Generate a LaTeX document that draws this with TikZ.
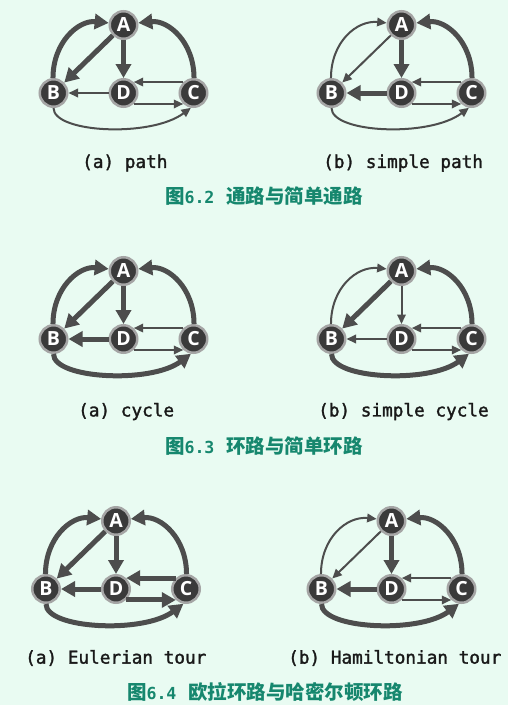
\documentclass[tikz,border=0pt]{standalone}
\usepackage{fontspec}
\usetikzlibrary{arrows.meta}
\newfontfamily\monof[FakeBold=1.6]{DejaVu Sans Mono}
\newfontfamily\monobf{DejaVu Sans Mono Bold}
\newfontfamily\letterf{Open Sans}
\newfontfamily\cjkf{Noto Sans CJK SC}
\definecolor{bgc}{RGB}{233,251,242}
\definecolor{edgec}{RGB}{77,77,77}
\definecolor{vfill}{RGB}{58,58,58}
\definecolor{vring}{RGB}{165,165,165}
\definecolor{capc}{RGB}{22,135,110}
\tikzset{
  vtx/.style={circle, fill=vfill, draw=vring, line width=2.5pt, minimum size=27.5pt, inner sep=0pt,
    text=white, font=\letterf\bfseries\fontsize{19.5}{19.5}\selectfont},
  thk/.style={draw=edgec, line width=5pt, -{Triangle[length=14pt,width=15pt]}},
  thn/.style={draw=edgec, line width=2pt, -{Triangle[length=9.5pt,width=8.5pt]}},
  lbl/.style={anchor=west, inner sep=0pt, text=black!90, font=\monof\fontsize{17.7}{20}\selectfont},
  captxt/.style={anchor=center, inner sep=0pt, text=capc},
}
\newcommand\capt[2]{{\cjkf\bfseries\fontsize{19.5}{22}\selectfont 图}{\monobf\fontsize{16.6}{22}\selectfont #1}\hspace{12pt}{\cjkf\bfseries\fontsize{19.5}{22}\selectfont #2}}
\newcommand\mygraph[4]{%
\begin{scope}[shift={(#2,#3)},#4]
\node[vtx] (#1A) at (70,0) {A};
\node[vtx] (#1B) at (0,-68) {B};
\node[vtx] (#1D) at (70,-68) {D};
\node[vtx] (#1C) at (140,-68) {C};
\draw[eBA] (#1B.92) .. controls +(0,36) and +(-30,3) .. (#1A.172);
\draw[eCA] (#1C.88) .. controls +(0,36) and +(30,3) .. (#1A.8);
\draw[eAB] (#1A) -- (#1B);
\draw[eAD] (#1A) -- (#1D);
\draw[eDB] (#1D) -- (#1B);
\draw[eCD] (#1C.133) -- (#1D.47);
\draw[eDC] (#1D.-47) -- (#1C.-133);
\draw[eBC] (#1B.-90) .. controls +(0,-25) and +(-40,-30) .. (#1C.-100);
\end{scope}}
\begin{document}
\begin{tikzpicture}[x=1pt,y=1pt]
\fill[bgc] (0,0) rectangle (508,-705);
\useasboundingbox (0,0) rectangle (508,-705);
% Fig 6.2
\mygraph{a}{53.5}{-25}{eBA/.style=thk,eAB/.style=thk,eAD/.style=thk,eCA/.style=thk,eCD/.style=thn,eDB/.style=thn,eDC/.style=thn,eBC/.style=thn}
\mygraph{b}{331.5}{-25}{eBA/.style=thn,eAB/.style=thn,eAD/.style=thk,eCA/.style=thk,eCD/.style=thn,eDB/.style=thk,eDC/.style=thn,eBC/.style=thn}
\node[lbl] (la) at (82,-163) {(a) path};
\node[lbl] (lb) at (323,-163) {(b) simple path};
\node[captxt] (c1) at (264,-196) {\capt{6.2}{通路与简单通路}};
% Fig 6.3
\mygraph{c}{53.5}{-271}{eBA/.style=thk,eAB/.style=thk,eAD/.style=thk,eCA/.style=thk,eCD/.style=thn,eDB/.style=thk,eDC/.style=thn,eBC/.style=thk}
\mygraph{d}{331.5}{-271}{eBA/.style=thn,eAB/.style=thk,eAD/.style=thn,eCA/.style=thk,eCD/.style=thn,eDB/.style=thn,eDC/.style=thn,eBC/.style=thk}
\node[lbl] (lc) at (78,-411.5) {(a) cycle};
\node[lbl] (ld) at (318,-411.5) {(b) simple cycle};
\node[captxt] (c2) at (264,-446.5) {\capt{6.3}{环路与简单环路}};
% Fig 6.4
\mygraph{e}{46}{-521}{eBA/.style=thk,eAB/.style=thk,eAD/.style=thk,eCA/.style=thk,eCD/.style=thk,eDB/.style=thk,eDC/.style=thk,eBC/.style=thk}
\mygraph{f}{321.5}{-521}{eBA/.style=thn,eAB/.style=thn,eAD/.style=thk,eCA/.style=thk,eCD/.style=thn,eDB/.style=thk,eDC/.style=thn,eBC/.style=thk}
\node[lbl] (le) at (25,-658) {(a) Eulerian tour};
\node[lbl] (lf) at (288,-658) {(b) Hamiltonian tour};
\node[captxt] (c3) at (265,-691.5) {\capt{6.4}{欧拉环路与哈密尔顿环路}};
\end{tikzpicture}
\end{document}
